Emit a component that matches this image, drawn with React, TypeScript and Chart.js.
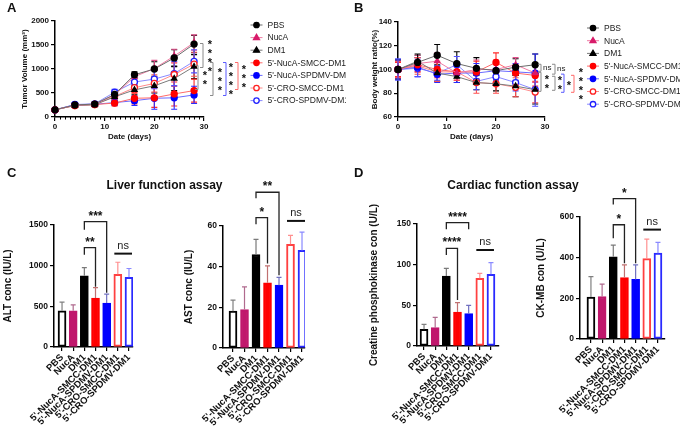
import React, { useEffect, useRef } from "react";
import { Chart, registerables } from "chart.js";

Chart.register(...registerables);

const FONT = "'Liberation Sans', Arial, Helvetica, sans-serif";
Chart.defaults.font.family = FONT;
Chart.defaults.color = "#111";

// ---------- groups & time points ----------
const groups = [
  "PBS",
  "NucA",
  "DM1",
  "5'-NucA-SMCC-DM1",
  "5'-NucA-SPDMV-DM1",
  "5'-CRO-SMCC-DM1",
  "5'-CRO-SPDMV-DM1",
];
const days = [0, 4, 8, 12, 16, 20, 24, 28];

// ---------- tumour volume (mm³): mean and SD ----------
const tvPBS = [150, 250, 270, 470, 880, 1000, 1230, 1520];
const tvNucA = [150, 245, 265, 460, 840, 1010, 1270, 1550];
const tvDM1 = [150, 240, 255, 420, 565, 650, 800, 1050];
const tvNucASMCC = [150, 240, 260, 290, 390, 400, 480, 550];
const tvNucASPDMV = [150, 255, 265, 300, 340, 390, 400, 460];
const tvCROSMCC = [150, 240, 260, 430, 610, 700, 885, 1100];
const tvCROSPDMV = [150, 260, 275, 516, 728, 790, 905, 1160];

const tvPBSsd = [20, 30, 40, 50, 60, 150, 170, 180];
const tvNucAsd = [20, 30, 40, 50, 60, 170, 140, 160];
const tvDM1sd = [20, 30, 40, 60, 100, 150, 250, 250];
const tvNucASMCCsd = [20, 30, 40, 60, 120, 200, 250, 240];
const tvNucASPDMVsd = [20, 30, 40, 60, 100, 230, 240, 180];
const tvCROSMCCsd = [20, 30, 40, 60, 120, 180, 240, 250];
const tvCROSPDMVsd = [20, 30, 40, 60, 80, 200, 250, 240];

// ---------- body weight ratio (%): mean and SD ----------
const bwPBS = [100, 106, 112, 105, 101, 99, 102, 104];
const bwNucA = [100, 105, 107, 97, 100, 100, 104, 97];
const bwDM1 = [100, 107, 97, 94, 89, 88, 86, 83];
const bwNucASMCC = [100, 104, 100, 98, 98, 106, 97, 95];
const bwNucASPDMV = [100, 102, 96, 97, 97, 99, 98, 97];
const bwCROSMCC = [100, 103, 98, 98, 89, 88, 85, 81];
const bwCROSPDMV = [100, 101, 97, 104, 90, 94, 89, 83];

const bwPBSsd = [8, 6, 9, 10, 9, 7, 7, 9];
const bwNucAsd = [7, 7, 7, 6, 8, 8, 6, 8];
const bwDM1sd = [8, 6, 7, 5, 6, 6, 9, 12];
const bwNucASMCCsd = [6, 6, 7, 7, 9, 8, 7, 9];
const bwNucASPDMVsd = [8, 8, 7, 8, 8, 8, 7, 16];
const bwCROSMCCsd = [7, 7, 8, 7, 9, 8, 8, 9];
const bwCROSPDMVsd = [9, 7, 6, 7, 7, 6, 7, 14];

// ---------- serum markers: mean and SD per group ----------
const altMean = [445, 445, 875, 601, 540, 895, 858];
const altSd = [107, 74, 102, 130, 110, 147, 107];
const astMean = [18.1, 18.9, 46.0, 32.1, 30.9, 51.0, 48.0];
const astSd = [5.4, 11.2, 7.4, 8.3, 3.8, 4.4, 9.0];
const cpkMean = [20.5, 22.5, 86, 41.8, 39.8, 83.2, 88.1];
const cpkSd = [6.1, 12.7, 9.5, 11.5, 10.2, 6.1, 14.4];
const ckmbMean = [206, 209, 404, 302, 293, 395, 422];
const ckmbSd = [101, 61, 58, 63, 72, 96, 53];

// ---------- styles ----------
const seriesStyle = [
  { shape: "circle", fill: "#000000", stroke: "#000000", line: "#6b6b6b", err: "#000000" },
  { shape: "triangle", fill: "#d81b6a", stroke: "#d81b6a", line: "#f07ca4", err: "#e0508a" },
  { shape: "triangle", fill: "#000000", stroke: "#000000", line: "#7a7a7a", err: "#000000" },
  { shape: "circle", fill: "#ff0000", stroke: "#ff0000", line: "#ff6a6a", err: "#ff2a2a" },
  { shape: "circle", fill: "#0000ff", stroke: "#0000ff", line: "#6a6aff", err: "#2a2aff" },
  { shape: "circle", fill: "#ffffff", stroke: "#ff2020", line: "#ff8a8a", err: "#ff5050" },
  { shape: "circle", fill: "#ffffff", stroke: "#2020ff", line: "#8a8aff", err: "#5050ff" },
];
const barStyle = [
  { fill: "#ffffff", stroke: "#000000", err: "#808080" },
  { fill: "#c0176c", stroke: "#c0176c", err: "#b06a8e" },
  { fill: "#000000", stroke: "#000000", err: "#7a7a7a" },
  { fill: "#ff0000", stroke: "#ff0000", err: "#c07070" },
  { fill: "#0000ff", stroke: "#0000ff", err: "#7070c0" },
  { fill: "#ffffff", stroke: "#ff4040", err: "#ff9090" },
  { fill: "#ffffff", stroke: "#2a2aff", err: "#8a8aff" },
];
const GRAY = "#8a8a8a";
const BLUE = "#5a5aff";
const RED = "#ff6a6a";

type Box = { x: number; y: number; w: number; h: number };
type Area = { l: number; t: number; r: number; b: number };

// Convert a page-space plot area into Chart.js padding and fixed axis sizes
function frame(box: Box, area: Area) {
  return {
    padding: { left: 0, top: area.t - box.y, right: box.x + box.w - area.r, bottom: 0 },
    yWidth: area.l - box.x,
    xHeight: box.y + box.h - area.b,
  };
}

const plain = (v: any) => String(v);

const axisBase = {
  grid: { drawOnChartArea: false, tickLength: 4, color: "#000", lineWidth: 1.2 },
  border: { color: "#000", width: 1.5 },
};

// ---------- line panels (A, B) ----------
type SideBracket = {
  x: number; // page x of the vertical stroke
  v1: number;
  v2: number;
  color: string;
  stars?: number;
  text?: string;
  dx: number; // label offset from stroke
};

function drawStars(ctx: CanvasRenderingContext2D, x: number, yMid: number, n: number) {
  ctx.fillStyle = "#111";
  ctx.font = `bold 11px ${FONT}`;
  ctx.textAlign = "center";
  ctx.textBaseline = "middle";
  for (let k = 0; k < n; k++) ctx.fillText("*", x, yMid + (k - (n - 1) / 2) * 9 + 2.5);
}

function lineChartConfig(spec: {
  box: Box;
  area: Area;
  means: number[][];
  sds: number[][];
  yMin: number;
  yMax: number;
  yStep: number;
  yTitle: string;
  yTitlePad: number;
  brackets: SideBracket[];
  legend: { x: number; y: number; step: number };
  minorTicks: boolean;
}) {
  const f = frame(spec.box, spec.area);
  const datasets = spec.means.map((m, i) => ({
    label: groups[i],
    data: days.map((d, j) => ({ x: d, y: m[j] })),
    sd: spec.sds[i],
    errColor: seriesStyle[i].err,
    borderColor: seriesStyle[i].line,
    backgroundColor: seriesStyle[i].fill,
    borderWidth: 1,
    pointStyle: seriesStyle[i].shape,
    pointRadius: 3,
    pointBackgroundColor: seriesStyle[i].fill,
    pointBorderColor: seriesStyle[i].stroke,
    pointBorderWidth: 1.3,
    tension: 0,
    clip: false,
  }));

  const errorBars = {
    id: "errorBars",
    beforeDatasetsDraw(chart: any) {
      const { ctx } = chart;
      const ys = chart.scales.y;
      chart.data.datasets.forEach((ds: any, di: number) => {
        const meta = chart.getDatasetMeta(di);
        ctx.save();
        ctx.strokeStyle = ds.errColor;
        ctx.lineWidth = 1.1;
        meta.data.forEach((pt: any, i: number) => {
          const v = ds.data[i].y;
          const top = ys.getPixelForValue(v + ds.sd[i]);
          const bot = ys.getPixelForValue(v - ds.sd[i]);
          ctx.beginPath();
          ctx.moveTo(pt.x, top);
          ctx.lineTo(pt.x, bot);
          ctx.moveTo(pt.x - 3, top);
          ctx.lineTo(pt.x + 3, top);
          ctx.moveTo(pt.x - 3, bot);
          ctx.lineTo(pt.x + 3, bot);
          ctx.stroke();
        });
        ctx.restore();
      });
    },
  };

  const extras = {
    id: "extras",
    afterDraw(chart: any) {
      const { ctx, chartArea } = chart;
      const xs = chart.scales.x;
      const ys = chart.scales.y;
      const ox = spec.box.x;
      const oy = spec.box.y;
      ctx.save();
      // minor ticks on the day axis
      if (spec.minorTicks) {
        ctx.strokeStyle = "#000";
        ctx.lineWidth = 1;
        for (let d = 1; d < 30; d++) {
          if (d % 10 === 0) continue;
          const px = Math.round(xs.getPixelForValue(d)) + 0.5;
          ctx.beginPath();
          ctx.moveTo(px, chartArea.bottom);
          ctx.lineTo(px, chartArea.bottom + 2.5);
          ctx.stroke();
        }
      }
      // significance brackets on the right
      spec.brackets.forEach((b) => {
        const x = b.x - ox;
        const y1 = ys.getPixelForValue(b.v1);
        const y2 = ys.getPixelForValue(b.v2);
        ctx.strokeStyle = b.color;
        ctx.lineWidth = 1;
        ctx.beginPath();
        ctx.moveTo(x - 3, y1);
        ctx.lineTo(x, y1);
        ctx.lineTo(x, y2);
        ctx.lineTo(x - 3, y2);
        ctx.stroke();
        const mid = (y1 + y2) / 2;
        if (b.stars) drawStars(ctx, x + b.dx, mid, b.stars);
        if (b.text) {
          ctx.fillStyle = "#222";
          ctx.font = `8px ${FONT}`;
          ctx.textAlign = "left";
          ctx.textBaseline = "middle";
          ctx.fillText(b.text, x + b.dx, mid);
        }
      });
      // legend
      chart.data.datasets.forEach((ds: any, i: number) => {
        const cy = spec.legend.y - oy + i * spec.legend.step;
        const cx = spec.legend.x - ox;
        ctx.strokeStyle = ds.borderColor;
        ctx.lineWidth = 1;
        ctx.beginPath();
        ctx.moveTo(cx - 6, cy);
        ctx.lineTo(cx + 6, cy);
        ctx.stroke();
        ctx.fillStyle = ds.pointBackgroundColor;
        ctx.strokeStyle = ds.pointBorderColor;
        ctx.lineWidth = 1.3;
        ctx.beginPath();
        if (ds.pointStyle === "triangle") {
          ctx.moveTo(cx, cy - 3.2);
          ctx.lineTo(cx + 3, cy + 2);
          ctx.lineTo(cx - 3, cy + 2);
          ctx.closePath();
        } else {
          ctx.arc(cx, cy, 2.7, 0, Math.PI * 2);
        }
        ctx.fill();
        ctx.stroke();
        ctx.fillStyle = "#222";
        ctx.font = `8.5px ${FONT}`;
        ctx.textAlign = "left";
        ctx.textBaseline = "middle";
        ctx.fillText(ds.label, cx + 11, cy + 0.5);
      });
      ctx.restore();
    },
  };

  return {
    type: "line",
    data: { datasets },
    options: {
      animation: false,
      responsive: false,
      layout: { padding: f.padding },
      plugins: { legend: { display: false }, tooltip: { enabled: false } },
      scales: {
        x: {
          type: "linear",
          min: 0,
          max: 30,
          afterFit: (s: any) => {
            s.height = f.xHeight;
          },
          ticks: { stepSize: 10, font: { size: 8, weight: "bold" }, padding: 1, color: "#111", callback: plain },
          ...axisBase,
          title: {
            display: true,
            text: "Date (days)",
            font: { size: 8, weight: "bold" },
            color: "#111",
            padding: { top: 0, bottom: 3 },
          },
        },
        y: {
          min: spec.yMin,
          max: spec.yMax,
          afterFit: (s: any) => {
            s.width = f.yWidth;
          },
          ticks: {
            stepSize: spec.yStep,
            font: { size: 8, weight: "bold" },
            padding: 2,
            color: "#111",
            callback: plain,
          },
          ...axisBase,
          title: {
            display: true,
            text: spec.yTitle,
            font: { size: 8, weight: "bold" },
            color: "#111",
            padding: { top: spec.yTitlePad, bottom: 0 },
          },
        },
      },
    },
    plugins: [errorBars, extras],
  };
}

// ---------- bar panels (C, D) ----------
type Pair = { a: number; b: number; top: number; aEnd: number; bEnd: number; label: string };

function barChartConfig(spec: {
  box: Box;
  area: Area;
  means: number[];
  sds: number[];
  yMax: number;
  yStep: number;
  yTitle: string;
  yTitlePad: number;
  xMin: number;
  xMax: number;
  pairs: Pair[];
  ns: number;
}) {
  const f = frame(spec.box, spec.area);

  const decorations = {
    id: "decorations",
    afterDatasetsDraw(chart: any) {
      const { ctx } = chart;
      const xs = chart.scales.x;
      const ys = chart.scales.y;
      ctx.save();
      // upward error bars
      spec.means.forEach((v, i) => {
        const px = xs.getPixelForValue(i);
        const y0 = ys.getPixelForValue(v);
        const y1 = ys.getPixelForValue(v + spec.sds[i]);
        ctx.strokeStyle = barStyle[i].err;
        ctx.lineWidth = 1.2;
        ctx.beginPath();
        ctx.moveTo(px, y0);
        ctx.lineTo(px, y1);
        ctx.moveTo(px - 2.5, y1);
        ctx.lineTo(px + 2.5, y1);
        ctx.stroke();
      });
      // comparison brackets
      spec.pairs.forEach((p) => {
        const xa = xs.getPixelForValue(p.a);
        const xb = xs.getPixelForValue(p.b);
        const yt = ys.getPixelForValue(p.top);
        ctx.strokeStyle = "#222";
        ctx.lineWidth = 1.3;
        ctx.beginPath();
        ctx.moveTo(xa, ys.getPixelForValue(p.aEnd));
        ctx.lineTo(xa, yt);
        ctx.lineTo(xb, yt);
        ctx.lineTo(xb, ys.getPixelForValue(p.bEnd));
        ctx.stroke();
        ctx.fillStyle = "#111";
        ctx.font = `bold 12px ${FONT}`;
        ctx.textAlign = "center";
        ctx.textBaseline = "alphabetic";
        ctx.fillText(p.label, (xa + xb) / 2, yt - 2);
      });
      // ns line between the two CRO conjugates
      const x5 = xs.getPixelForValue(5) - 3.5;
      const x6 = xs.getPixelForValue(6) + 3;
      const yn = ys.getPixelForValue(spec.ns);
      ctx.strokeStyle = "#111";
      ctx.lineWidth = 2;
      ctx.beginPath();
      ctx.moveTo(x5, yn);
      ctx.lineTo(x6, yn);
      ctx.stroke();
      ctx.fillStyle = "#222";
      ctx.font = `11px ${FONT}`;
      ctx.textAlign = "center";
      ctx.textBaseline = "alphabetic";
      ctx.fillText("ns", (x5 + x6) / 2, yn - 5);
      ctx.restore();
    },
  };

  return {
    type: "bar",
    data: {
      datasets: [
        {
          data: spec.means.map((v, i) => ({ x: i, y: v })),
          backgroundColor: barStyle.map((s) => s.fill),
          borderColor: barStyle.map((s) => s.stroke),
          borderWidth: 2,
          borderSkipped: false,
          barThickness: 8,
        },
      ],
    },
    options: {
      animation: false,
      responsive: false,
      layout: { padding: f.padding },
      plugins: { legend: { display: false }, tooltip: { enabled: false } },
      scales: {
        x: {
          type: "linear",
          min: spec.xMin,
          max: spec.xMax,
          offset: false,
          afterBuildTicks: (s: any) => {
            s.ticks = groups.map((_, i) => ({ value: i }));
          },
          afterFit: (s: any) => {
            s.height = f.xHeight;
          },
          ticks: {
            autoSkip: false,
            maxRotation: 45,
            minRotation: 45,
            padding: 1,
            font: { size: 9.5, weight: "bold" },
            color: "#111",
            callback: (_v: any, i: number) => groups[i],
          },
          grid: { ...axisBase.grid, offset: false },
          border: axisBase.border,
        },
        y: {
          min: 0,
          max: spec.yMax,
          afterFit: (s: any) => {
            s.width = f.yWidth;
          },
          ticks: {
            stepSize: spec.yStep,
            font: { size: 8.5, weight: "bold" },
            padding: 2,
            color: "#111",
            callback: plain,
          },
          ...axisBase,
          title: {
            display: true,
            text: spec.yTitle,
            font: { size: 10, weight: "bold" },
            color: "#111",
            padding: { top: spec.yTitlePad, bottom: 0 },
          },
        },
      },
    },
    plugins: [decorations],
  };
}

// ---------- panel specs ----------
const boxA = { x: 0, y: 0, w: 346, h: 145 };
const boxB = { x: 346, y: 0, w: 334, h: 145 };
const boxALT = { x: 0, y: 175, w: 180, h: 253 };
const boxAST = { x: 180, y: 175, w: 165, h: 253 };
const boxCPK = { x: 345, y: 175, w: 170, h: 253 };
const boxCKMB = { x: 515, y: 175, w: 165, h: 253 };

const makeA = () =>
  lineChartConfig({
    box: boxA,
    area: { l: 55, t: 21, r: 204, b: 117 },
    means: [tvPBS, tvNucA, tvDM1, tvNucASMCC, tvNucASPDMV, tvCROSMCC, tvCROSPDMV],
    sds: [tvPBSsd, tvNucAsd, tvDM1sd, tvNucASMCCsd, tvNucASPDMVsd, tvCROSMCCsd, tvCROSPDMVsd],
    yMin: 0,
    yMax: 2000,
    yStep: 500,
    yTitle: "Tumor Volume (mm³)",
    yTitlePad: 20,
    minorTicks: true,
    legend: { x: 256.5, y: 25, step: 12.6 },
    brackets: [
      { x: 203, v1: 1531, v2: 1031, color: GRAY, stars: 4, dx: 7 },
      { x: 198, v1: 1073, v2: 573, color: GRAY, stars: 2, dx: 7 },
      { x: 213, v1: 1135, v2: 448, color: GRAY, stars: 3, dx: 7 },
      { x: 226, v1: 1135, v2: 448, color: BLUE, stars: 4, dx: 5 },
      { x: 238, v1: 1135, v2: 573, color: RED, stars: 3, dx: 6 },
    ],
  });

const makeB = () =>
  lineChartConfig({
    box: boxB,
    area: { l: 398, t: 22, r: 545, b: 117 },
    means: [bwPBS, bwNucA, bwDM1, bwNucASMCC, bwNucASPDMV, bwCROSMCC, bwCROSPDMV],
    sds: [bwPBSsd, bwNucAsd, bwDM1sd, bwNucASMCCsd, bwNucASPDMVsd, bwCROSMCCsd, bwCROSPDMVsd],
    yMin: 60,
    yMax: 140,
    yStep: 20,
    yTitle: "Body weight ratio(%)",
    yTitlePad: 24,
    minorTicks: false,
    legend: { x: 593, y: 28, step: 12.7 },
    brackets: [
      { x: 541, v1: 104.4, v2: 98.5, color: GRAY, text: "ns", dx: 2 },
      { x: 555, v1: 104.4, v2: 96.1, color: GRAY, text: "ns", dx: 2 },
      { x: 541, v1: 97.6, v2: 81.6, color: GRAY, stars: 2, dx: 6 },
      { x: 555, v1: 94.3, v2: 82.5, color: GRAY, stars: 2, dx: 5 },
      { x: 564, v1: 96.1, v2: 80.8, color: BLUE, stars: 1, dx: 5 },
      { x: 574, v1: 95.1, v2: 80.8, color: RED, stars: 4, dx: 7 },
    ],
  });

const makeALT = () =>
  barChartConfig({
    box: boxALT,
    area: { l: 54, t: 225, r: 133, b: 347 },
    means: altMean,
    sds: altSd,
    yMax: 1500,
    yStep: 500,
    yTitle: "ALT conc (IU/L)",
    yTitlePad: 2,
    xMin: -0.72,
    xMax: 6.36,
    pairs: [
      { a: 2, b: 3, top: 1221, aEnd: 1135, bEnd: 742, label: "**" },
      { a: 2, b: 4, top: 1541, aEnd: 1443, bEnd: 668, label: "***" },
    ],
    ns: 1148,
  });

const makeAST = () =>
  barChartConfig({
    box: boxAST,
    area: { l: 223, t: 226, r: 305, b: 348 },
    means: astMean,
    sds: astSd,
    yMax: 60,
    yStep: 20,
    yTitle: "AST conc (IU/L)",
    yTitlePad: 3,
    xMin: -0.87,
    xMax: 6.26,
    pairs: [
      { a: 2, b: 3, top: 64.1, aEnd: 60.8, bEnd: 41.6, label: "*" },
      { a: 2, b: 4, top: 76.6, aEnd: 73.6, bEnd: 35.8, label: "**" },
    ],
    ns: 62.5,
  });

const makeCPK = () =>
  barChartConfig({
    box: boxCPK,
    area: { l: 417, t: 224, r: 499, b: 346 },
    means: cpkMean,
    sds: cpkSd,
    yMax: 150,
    yStep: 50,
    yTitle: "Creatine phosphokinase con (U/L)",
    yTitlePad: 23,
    xMin: -0.63,
    xMax: 6.72,
    pairs: [
      { a: 2, b: 3, top: 120, aEnd: 112, bEnd: 56.5, label: "****" },
      { a: 2, b: 4, top: 151.6, aEnd: 143.4, bEnd: 143.4, label: "****" },
    ],
    ns: 118,
  });

const makeCKMB = () =>
  barChartConfig({
    box: boxCKMB,
    area: { l: 580, t: 217, r: 665, b: 339 },
    means: ckmbMean,
    sds: ckmbSd,
    yMax: 600,
    yStep: 200,
    yTitle: "CK-MB con (U/L)",
    yTitlePad: 20,
    xMin: -0.98,
    xMax: 6.63,
    pairs: [
      { a: 2, b: 3, top: 562, aEnd: 496, bEnd: 373, label: "*" },
      { a: 2, b: 4, top: 690, aEnd: 661, bEnd: 373, label: "*" },
    ],
    ns: 538,
  });

// ---------- components ----------
function ChartBox({ box, make }: { box: Box; make: () => any }) {
  const ref = useRef<HTMLCanvasElement>(null);
  useEffect(() => {
    const chart = new Chart(ref.current as HTMLCanvasElement, make());
    return () => chart.destroy();
  }, []);
  return (
    <canvas
      ref={ref}
      width={box.w}
      height={box.h}
      style={{ position: "absolute", left: box.x, top: box.y, width: box.w, height: box.h }}
    />
  );
}

function Text({
  x,
  y,
  size,
  children,
  center,
}: {
  x: number;
  y: number;
  size: number;
  children: React.ReactNode;
  center?: boolean;
}) {
  return (
    <div
      style={{
        position: "absolute",
        left: center ? x - 150 : x,
        top: y,
        width: center ? 300 : undefined,
        textAlign: center ? "center" : "left",
        fontSize: size,
        lineHeight: 1,
        fontWeight: "bold",
        fontFamily: FONT,
        color: "#111",
        whiteSpace: "nowrap",
      }}
    >
      {children}
    </div>
  );
}

export default function App() {
  return (
    <div
      style={{
        position: "absolute",
        left: 0,
        top: 0,
        width: 680,
        height: 428,
        background: "#fff",
        overflow: "hidden",
      }}
    >
      <ChartBox box={boxA} make={makeA} />
      <ChartBox box={boxB} make={makeB} />
      <ChartBox box={boxALT} make={makeALT} />
      <ChartBox box={boxAST} make={makeAST} />
      <ChartBox box={boxCPK} make={makeCPK} />
      <ChartBox box={boxCKMB} make={makeCKMB} />
      <Text x={7} y={1} size={13}>A</Text>
      <Text x={354} y={1} size={13}>B</Text>
      <Text x={7} y={166} size={13}>C</Text>
      <Text x={354} y={166} size={13}>D</Text>
      <Text x={164.5} y={179} size={12} center>
        Liver function assay
      </Text>
      <Text x={513} y={179} size={12} center>
        Cardiac function assay
      </Text>
    </div>
  );
}
